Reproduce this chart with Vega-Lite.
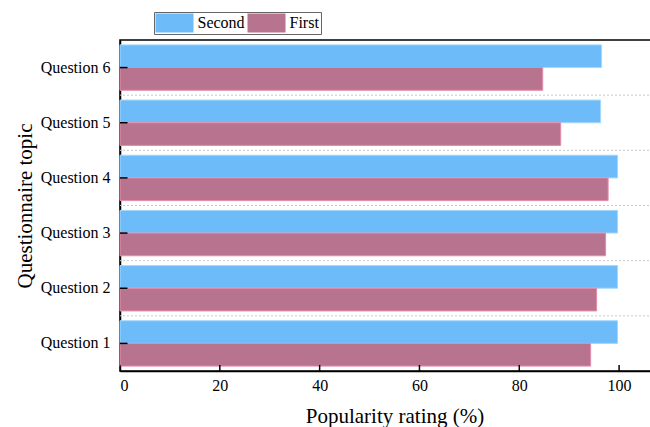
{
  "$schema": "https://vega.github.io/schema/vega-lite/v6.json",
  "width": 549,
  "height": 331,
  "autosize": {"type": "none"},
  "padding": {"left": 120, "top": 40, "right": 0, "bottom": 56},
  "config": {
    "font": "'Liberation Serif', 'Times New Roman', Times, serif",
    "view": {"stroke": "black", "strokeWidth": 1.5},
    "axis": {
      "domainColor": "black",
      "domainWidth": 1.5,
      "tickColor": "black",
      "tickWidth": 1.5,
      "labelColor": "black",
      "titleColor": "black",
      "labelFont": "'Liberation Serif', 'Times New Roman', Times, serif",
      "titleFont": "'Liberation Serif', 'Times New Roman', Times, serif",
      "titleFontWeight": "normal",
      "labelFontSize": 16,
      "grid": false
    }
  },
  "datasets": {
    "bars": [
      {"q": "Question 1", "series": "Second", "value": 99.7},
      {"q": "Question 1", "series": "First", "value": 94.3},
      {"q": "Question 2", "series": "Second", "value": 99.7},
      {"q": "Question 2", "series": "First", "value": 95.5},
      {"q": "Question 3", "series": "Second", "value": 99.7},
      {"q": "Question 3", "series": "First", "value": 97.3},
      {"q": "Question 4", "series": "Second", "value": 99.7},
      {"q": "Question 4", "series": "First", "value": 97.8},
      {"q": "Question 5", "series": "Second", "value": 96.3},
      {"q": "Question 5", "series": "First", "value": 88.3},
      {"q": "Question 6", "series": "Second", "value": 96.5},
      {"q": "Question 6", "series": "First", "value": 84.7}
    ],
    "grid": [
      {"q": "Question 1"},
      {"q": "Question 2"},
      {"q": "Question 3"},
      {"q": "Question 4"},
      {"q": "Question 5"}
    ],
    "yticks": [
      {"q": "Question 1", "value": 0},
      {"q": "Question 2", "value": 0},
      {"q": "Question 3", "value": 0},
      {"q": "Question 4", "value": 0},
      {"q": "Question 5", "value": 0},
      {"q": "Question 6", "value": 0}
    ],
    "xticks": [
      {"value": 0, "base": 0},
      {"value": 20, "base": 0},
      {"value": 40, "base": 0},
      {"value": 60, "base": 0},
      {"value": 80, "base": 0},
      {"value": 100, "base": 0}
    ]
  },
  "resolve": {"scale": {"y": "independent"}, "axis": {"y": "independent"}},
  "layer": [
    {
      "layer": [
        {
          "data": {"name": "bars"},
          "mark": {"type": "bar", "strokeWidth": 1},
          "encoding": {
            "y": {
              "field": "q",
              "type": "nominal",
              "sort": "descending",
              "scale": {"paddingInner": 0, "paddingOuter": 0},
              "axis": {
                "title": "Questionnaire topic",
                "titleFontSize": 21,
                "ticks": false,
                "labelPadding": 10,
                "titlePadding": 5,
                "orient": "left"
              }
            },
            "yOffset": {
              "field": "series",
              "type": "nominal",
              "sort": ["Second", "First"],
              "scale": {"paddingInner": 0, "paddingOuter": 0.215}
            },
            "x": {
              "field": "value",
              "type": "quantitative",
              "scale": {"domain": [0, 110], "nice": false},
              "axis": {
                "title": "Popularity rating (%)",
                "titleFontSize": 21,
                "values": [0, 20, 40, 60, 80, 100],
                "ticks": false,
                "labelPadding": 6,
                "titlePadding": 12
              }
            },
            "color": {
              "field": "series",
              "type": "nominal",
              "scale": {"domain": ["Second", "First"], "range": ["#6DBCF9", "#B8748E"]},
              "legend": {
                "orient": "none",
                "legendX": 34,
                "legendY": -28,
                "direction": "horizontal",
                "title": null,
                "symbolType": "M-1,-1H3V1H-1Z",
                "symbolSize": 361,
                "symbolOpacity": 1,
                "symbolStrokeWidth": 0,
                "labelFontSize": 16,
                "labelFont": "'Liberation Serif', 'Times New Roman', Times, serif",
                "labelColor": "black",
                "strokeColor": "#666666",
                "fillColor": "white",
                "padding": 1.5,
                "columnPadding": 2,
                "labelOffset": 23
              }
            },
            "stroke": {
              "field": "series",
              "type": "nominal",
              "scale": {"domain": ["Second", "First"], "range": ["#A6D8FB", "#E48CAA"]},
              "legend": null
            }
          }
        },
        {
          "data": {"name": "grid"},
          "mark": {"type": "rule", "color": "#c8c8c8", "strokeDash": [2, 2], "strokeWidth": 1},
          "encoding": {
            "y": {"field": "q", "type": "nominal", "bandPosition": 0, "sort": "descending"}
          }
        },
        {
          "data": {"name": "yticks"},
          "mark": {"type": "tick", "orient": "horizontal", "color": "black", "size": 15, "thickness": 1.5, "clip": true, "opacity": 1},
          "encoding": {
            "y": {"field": "q", "type": "nominal", "sort": "descending"},
            "x": {"field": "value", "type": "quantitative"}
          }
        }
      ]
    },
    {
      "data": {"name": "xticks"},
      "mark": {"type": "tick", "orient": "vertical", "color": "black", "size": 12, "thickness": 1.5, "clip": true, "opacity": 1},
      "encoding": {
        "y": {"field": "base", "type": "quantitative", "scale": {"domain": [0, 1]}, "axis": null},
        "x": {"field": "value", "type": "quantitative"}
      }
    }
  ]
}
